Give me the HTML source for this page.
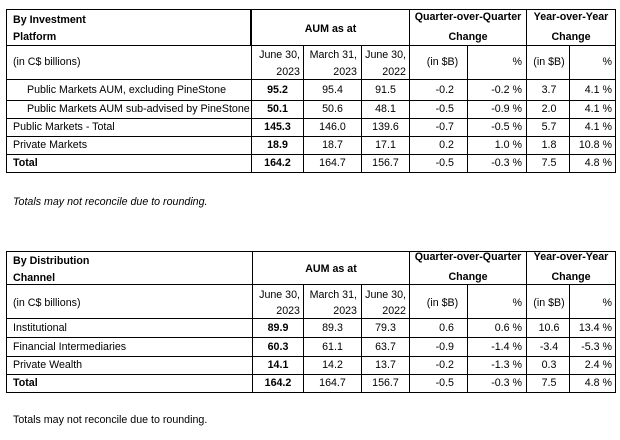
<!DOCTYPE html>
<html><head><meta charset="utf-8">
<style>
html,body{margin:0;padding:0;background:#fff;}
body{width:620px;height:440px;position:relative;overflow:hidden;font-family:"Liberation Sans",Arial,sans-serif;font-size:10.67px;color:#000;}
.h{position:absolute;height:1px;background:#000;}
.v{position:absolute;width:1px;background:#000;}
.t{position:absolute;white-space:nowrap;line-height:12px;height:12px;}
.b{font-weight:bold;}
.r{text-align:right;}
.c{text-align:center;}
.i{font-style:italic;}
</style></head><body>

<!-- ===== TABLE 1 ===== -->
<div class="h" style="left:6px;width:610px;top:9px"></div>
<div class="h" style="left:6px;width:610px;top:45px"></div>
<div class="h" style="left:6px;width:610px;top:79px"></div>
<div class="h" style="left:6px;width:610px;top:100px"></div>
<div class="h" style="left:6px;width:610px;top:118px"></div>
<div class="h" style="left:6px;width:610px;top:136px"></div>
<div class="h" style="left:6px;width:610px;top:154px"></div>
<div class="h" style="left:6px;width:610px;top:172px"></div>

<div class="v" style="left:6px;top:9px;height:164px"></div>
<div class="v" style="left:615px;top:9px;height:164px"></div>
<div class="v" style="left:250px;top:9px;height:36px;width:2px"></div>
<div class="v" style="left:251px;top:45px;height:128px"></div>
<div class="v" style="left:303px;top:45px;height:128px"></div>
<div class="v" style="left:361px;top:45px;height:128px"></div>
<div class="v" style="left:409px;top:9px;height:164px"></div>
<div class="v" style="left:467px;top:45px;height:128px"></div>
<div class="v" style="left:526px;top:9px;height:164px"></div>
<div class="v" style="left:569px;top:45px;height:128px"></div>

<div class="t b" style="left:13px;top:14px">By Investment</div>
<div class="t b" style="left:13px;top:31px">Platform</div>
<div class="t b c" style="left:252px;width:157px;top:23px">AUM as at</div>
<div class="t b c" style="left:410px;width:116px;top:11px">Quarter-over-Quarter</div>
<div class="t b c" style="left:410px;width:116px;top:31px">Change</div>
<div class="t b c" style="left:527px;width:88px;top:11px">Year-over-Year</div>
<div class="t b c" style="left:527px;width:88px;top:31px">Change</div>

<div class="t" style="left:13px;top:56px">(in C$ billions)</div>
<div class="t r" style="left:252px;width:48px;top:49px">June 30,</div>
<div class="t r" style="left:252px;width:48px;top:66px">2023</div>
<div class="t r" style="left:304px;width:53px;top:49px">March 31,</div>
<div class="t r" style="left:304px;width:53px;top:66px">2023</div>
<div class="t r" style="left:362px;width:44px;top:49px">June 30,</div>
<div class="t r" style="left:362px;width:44px;top:66px">2022</div>
<div class="t c" style="left:409px;width:67px;top:56px">(in $B)</div>
<div class="t r" style="left:467px;width:55px;top:56px">%</div>
<div class="t c" style="left:529px;width:40px;top:56px">(in $B)</div>
<div class="t r" style="left:569px;width:43px;top:56px">%</div>

<!-- rows table 1 -->
<div class="t" style="left:27px;top:84px">Public Markets AUM, excluding PineStone</div>
<div class="t b c" style="left:252px;width:51px;top:84px">95.2</div>
<div class="t c" style="left:304px;width:57px;top:84px">95.4</div>
<div class="t c" style="left:362px;width:47px;top:84px">91.5</div>
<div class="t r" style="left:409px;width:45px;top:84px">-0.2</div>
<div class="t r" style="left:467px;width:55px;top:84px">-0.2 %</div>
<div class="t c" style="left:529px;width:40px;top:84px">3.7</div>
<div class="t r" style="left:569px;width:43px;top:84px">4.1 %</div>

<div class="t" style="left:27px;top:103px">Public Markets AUM sub-advised by PineStone</div>
<div class="t b c" style="left:252px;width:51px;top:103px">50.1</div>
<div class="t c" style="left:304px;width:57px;top:103px">50.6</div>
<div class="t c" style="left:362px;width:47px;top:103px">48.1</div>
<div class="t r" style="left:409px;width:45px;top:103px">-0.5</div>
<div class="t r" style="left:467px;width:55px;top:103px">-0.9 %</div>
<div class="t c" style="left:529px;width:40px;top:103px">2.0</div>
<div class="t r" style="left:569px;width:43px;top:103px">4.1 %</div>

<div class="t" style="left:13px;top:121px">Public Markets - Total</div>
<div class="t b c" style="left:252px;width:51px;top:121px">145.3</div>
<div class="t c" style="left:304px;width:57px;top:121px">146.0</div>
<div class="t c" style="left:362px;width:47px;top:121px">139.6</div>
<div class="t r" style="left:409px;width:45px;top:121px">-0.7</div>
<div class="t r" style="left:467px;width:55px;top:121px">-0.5 %</div>
<div class="t c" style="left:529px;width:40px;top:121px">5.7</div>
<div class="t r" style="left:569px;width:43px;top:121px">4.1 %</div>

<div class="t" style="left:13px;top:139px">Private Markets</div>
<div class="t b c" style="left:252px;width:51px;top:139px">18.9</div>
<div class="t c" style="left:304px;width:57px;top:139px">18.7</div>
<div class="t c" style="left:362px;width:47px;top:139px">17.1</div>
<div class="t r" style="left:409px;width:45px;top:139px">0.2</div>
<div class="t r" style="left:467px;width:55px;top:139px">1.0 %</div>
<div class="t c" style="left:529px;width:40px;top:139px">1.8</div>
<div class="t r" style="left:569px;width:43px;top:139px">10.8 %</div>

<div class="t b" style="left:13px;top:157px">Total</div>
<div class="t b c" style="left:252px;width:51px;top:157px">164.2</div>
<div class="t c" style="left:304px;width:57px;top:157px">164.7</div>
<div class="t c" style="left:362px;width:47px;top:157px">156.7</div>
<div class="t r" style="left:409px;width:45px;top:157px">-0.5</div>
<div class="t r" style="left:467px;width:55px;top:157px">-0.3 %</div>
<div class="t c" style="left:529px;width:40px;top:157px">7.5</div>
<div class="t r" style="left:569px;width:43px;top:157px">4.8 %</div>

<div class="t i" style="left:13px;top:196px">Totals may not reconcile due to rounding.</div>

<!-- ===== TABLE 2 ===== -->
<div class="h" style="left:6px;width:610px;top:251px"></div>
<div class="h" style="left:6px;width:610px;top:284px"></div>
<div class="h" style="left:6px;width:610px;top:318px"></div>
<div class="h" style="left:6px;width:610px;top:337px"></div>
<div class="h" style="left:6px;width:610px;top:356px"></div>
<div class="h" style="left:6px;width:610px;top:374px"></div>
<div class="h" style="left:6px;width:610px;top:392px"></div>

<div class="v" style="left:6px;top:251px;height:142px"></div>
<div class="v" style="left:615px;top:251px;height:142px"></div>
<div class="v" style="left:252px;top:251px;height:142px"></div>
<div class="v" style="left:303px;top:284px;height:109px"></div>
<div class="v" style="left:361px;top:284px;height:109px"></div>
<div class="v" style="left:409px;top:251px;height:142px"></div>
<div class="v" style="left:467px;top:284px;height:109px"></div>
<div class="v" style="left:526px;top:251px;height:142px"></div>
<div class="v" style="left:569px;top:284px;height:109px"></div>

<div class="t b" style="left:13px;top:255px">By Distribution</div>
<div class="t b" style="left:13px;top:272px">Channel</div>
<div class="t b c" style="left:253px;width:156px;top:263px">AUM as at</div>
<div class="t b c" style="left:410px;width:116px;top:251px">Quarter-over-Quarter</div>
<div class="t b c" style="left:410px;width:116px;top:271px">Change</div>
<div class="t b c" style="left:527px;width:88px;top:251px">Year-over-Year</div>
<div class="t b c" style="left:527px;width:88px;top:271px">Change</div>

<div class="t" style="left:13px;top:297px">(in C$ billions)</div>
<div class="t r" style="left:253px;width:47px;top:289px">June 30,</div>
<div class="t r" style="left:253px;width:47px;top:305px">2023</div>
<div class="t r" style="left:304px;width:53px;top:289px">March 31,</div>
<div class="t r" style="left:304px;width:53px;top:305px">2023</div>
<div class="t r" style="left:362px;width:44px;top:289px">June 30,</div>
<div class="t r" style="left:362px;width:44px;top:305px">2022</div>
<div class="t c" style="left:409px;width:67px;top:297px">(in $B)</div>
<div class="t r" style="left:467px;width:55px;top:297px">%</div>
<div class="t c" style="left:529px;width:40px;top:297px">(in $B)</div>
<div class="t r" style="left:569px;width:43px;top:297px">%</div>

<div class="t" style="left:13px;top:322px">Institutional</div>
<div class="t b c" style="left:253px;width:50px;top:322px">89.9</div>
<div class="t c" style="left:304px;width:57px;top:322px">89.3</div>
<div class="t c" style="left:362px;width:47px;top:322px">79.3</div>
<div class="t r" style="left:409px;width:45px;top:322px">0.6</div>
<div class="t r" style="left:467px;width:55px;top:322px">0.6 %</div>
<div class="t c" style="left:529px;width:40px;top:322px">10.6</div>
<div class="t r" style="left:569px;width:43px;top:322px">13.4 %</div>

<div class="t" style="left:13px;top:341px">Financial Intermediaries</div>
<div class="t b c" style="left:253px;width:50px;top:341px">60.3</div>
<div class="t c" style="left:304px;width:57px;top:341px">61.1</div>
<div class="t c" style="left:362px;width:47px;top:341px">63.7</div>
<div class="t r" style="left:409px;width:45px;top:341px">-0.9</div>
<div class="t r" style="left:467px;width:55px;top:341px">-1.4 %</div>
<div class="t c" style="left:529px;width:40px;top:341px">-3.4</div>
<div class="t r" style="left:569px;width:43px;top:341px">-5.3 %</div>

<div class="t" style="left:13px;top:359px">Private Wealth</div>
<div class="t b c" style="left:253px;width:50px;top:359px">14.1</div>
<div class="t c" style="left:304px;width:57px;top:359px">14.2</div>
<div class="t c" style="left:362px;width:47px;top:359px">13.7</div>
<div class="t r" style="left:409px;width:45px;top:359px">-0.2</div>
<div class="t r" style="left:467px;width:55px;top:359px">-1.3 %</div>
<div class="t c" style="left:529px;width:40px;top:359px">0.3</div>
<div class="t r" style="left:569px;width:43px;top:359px">2.4 %</div>

<div class="t b" style="left:13px;top:377px">Total</div>
<div class="t b c" style="left:253px;width:50px;top:377px">164.2</div>
<div class="t c" style="left:304px;width:57px;top:377px">164.7</div>
<div class="t c" style="left:362px;width:47px;top:377px">156.7</div>
<div class="t r" style="left:409px;width:45px;top:377px">-0.5</div>
<div class="t r" style="left:467px;width:55px;top:377px">-0.3 %</div>
<div class="t c" style="left:529px;width:40px;top:377px">7.5</div>
<div class="t r" style="left:569px;width:43px;top:377px">4.8 %</div>

<div class="t" style="left:13px;top:414px">Totals may not reconcile due to rounding.</div>

</body></html>
